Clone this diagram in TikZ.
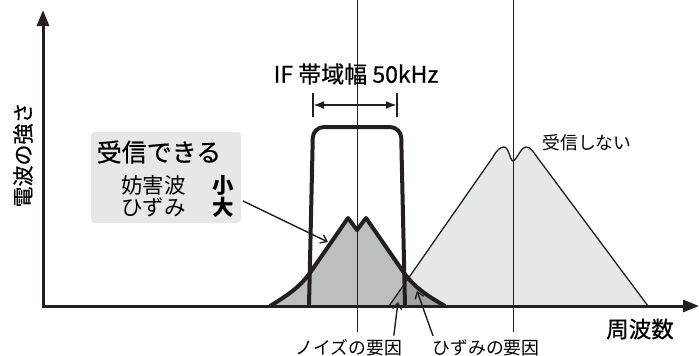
\documentclass[tikz,border=0pt]{standalone}
\usepackage{fontspec}
\setmainfont{Noto Sans CJK JP}
\newfontfamily\medjp{Noto Sans CJK JP}[FakeBold=0.6]
\usetikzlibrary{arrows.meta}
\definecolor{PaleGray}{RGB}{230,231,232}
\definecolor{MidGray}{RGB}{188,190,192}
\definecolor{DarkGray}{RGB}{160,162,165}
\definecolor{Ink}{RGB}{35,31,32}

% outlines of the two signals (pixel units, y downwards)
\newcommand{\farpeak}{(389,306) -- (493,157) .. controls (497,150) and (500,147) .. (504,147)
  .. controls (509,147) and (510,161) .. (513,161) .. controls (516,161) and (521,147) .. (526,147)
  .. controls (530,147) and (533,151) .. (537,157) -- (648,306)}
\newcommand{\nearpeak}{(270,306) .. controls (290,294) and (302,285) .. (312,270) -- (348,218)
  -- (357,230) -- (366,218) -- (402,270) .. controls (412,285) and (424,294) .. (445,306)}

\begin{document}
\begin{tikzpicture}[x=1pt,y=-1pt,
    axis/.style={Ink,line width=3pt,{Triangle[length=16pt,width=12pt]}-{Triangle[length=16pt,width=12pt]}},
    guide/.style={Ink,line width=0.8pt},
    filt/.style={Ink,line width=4pt,rounded corners=11pt},
    thick/.style={Ink,line width=4pt,line join=round},
    thin/.style={Ink,line width=1.3pt,line join=round},
    ptr/.style={Ink,line width=1.4pt,-{Straight Barb[length=6pt,width=9pt]}},
    span/.style={Ink,line width=2pt,{Latex[length=11pt,width=8pt]}-{Latex[length=11pt,width=8pt]}},
    title/.style={inner sep=0pt,font=\medjp\fontsize{23pt}{23pt}\selectfont},
    big/.style={inner sep=0pt,font=\medjp\fontsize{25pt}{25pt}\selectfont},
    mid/.style={inner sep=0pt,font=\fontsize{21.5pt}{21.5pt}\selectfont},
    strong/.style={inner sep=0pt,font=\fontsize{21.5pt}{21.5pt}\selectfont\bfseries},
    axislbl/.style={inner sep=0pt,font=\medjp\fontsize{22.5pt}{22.5pt}\selectfont},
    note/.style={inner sep=0pt,font=\fontsize{17.8pt}{17.8pt}\selectfont},
    panel/.style={fill=PaleGray,rounded corners=4pt,minimum width=150pt,minimum height=91pt,inner sep=0pt}
]
\useasboundingbox (0,0) rectangle (699,356);

% Signals
\fill[PaleGray] \farpeak -- cycle;
\fill[MidGray] \nearpeak -- cycle;
\begin{scope}
  \clip \nearpeak -- cycle;
  \fill[DarkGray] \farpeak -- cycle;
\end{scope}

% Centre lines
\draw[guide] (357,0) -- (357,332);
\draw[guide] (513,0) -- (513,332);

\draw[thin] \farpeak;
\draw[thick] \nearpeak;

% IF filter
\draw[filt] (309,306) -- (313,127) -- (401,127) -- (405,306);

% Axes
\draw[axis] (43,10) -- (43,306) -- (699,306);

% Bandwidth
\coordinate (bwL) at (313,105);
\coordinate (bwR) at (397,105);
\draw[Ink,line width=1.6pt] (313,93) -- (313,117);
\draw[Ink,line width=1.6pt] (397,93) -- (397,117);
\draw[span] (bwL) -- (bwR);
\node[title] (bw) at (356,74) {IF 帯域幅 50kHz};

% Labels
\node[axislbl,rotate=90,font=\medjp\fontsize{21pt}{21pt}\selectfont] (ylab) at (23,155) {電波の強さ};
\node[axislbl] (xlab) at (640,329) {周波数};
\node[note] (rej) at (587,143) {受信しない};
\node[note] (noisy) at (349,348) {ノイズの要因};
\node[note] (dist) at (486,348) {ひずみの要因};

% Result box
\node[panel] (box) at (166,177.5) {};
\node[big] (ok) at (159,152) {受信できる};
\node[mid,anchor=west] (jam) at (121,185) {妨害波};
\node[strong] (lo) at (223,185) {小};
\node[mid,anchor=west] (hiz) at (121,207) {ひずみ};
\node[strong] (hi) at (223,207) {大};

% Pointers
\coordinate (inband) at (328,242);
\coordinate (noiseTip) at (398,302);
\coordinate (distTip) at (417,291);
\draw[ptr,shorten <=10pt] (hi.north east) -- (inband);
\draw[ptr,shorten <=4pt] ([xshift=-9pt]noisy.north east) -- (noiseTip);
\draw[ptr,shorten <=4pt] ([xshift=2pt]dist.north west) -- (distTip);

\end{tikzpicture}
\end{document}
